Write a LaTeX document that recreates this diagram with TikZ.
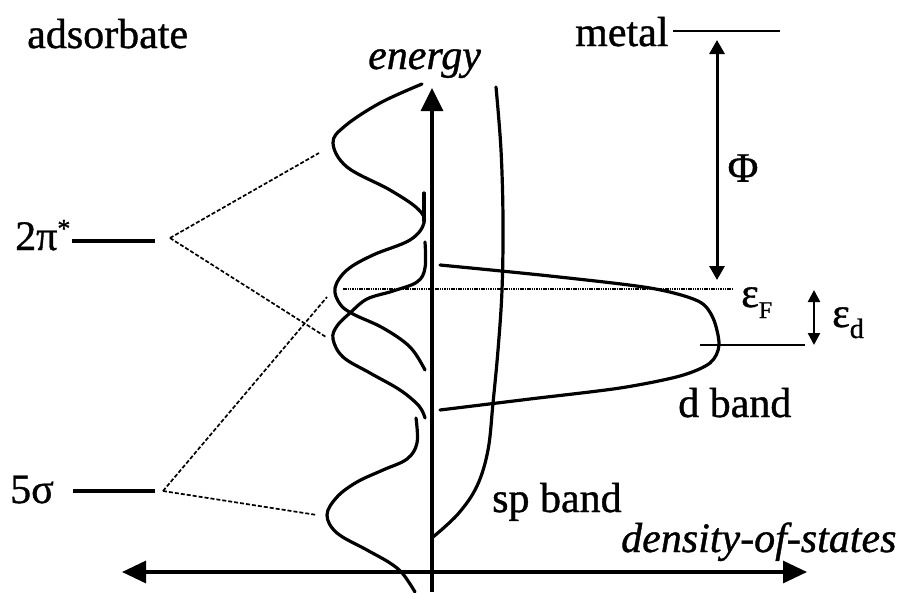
\documentclass[tikz,border=0pt]{standalone}
\usepackage{fontspec}
\setmainfont{Liberation Serif}
\usetikzlibrary{arrows.meta}
\begin{document}
\begin{tikzpicture}[x=1pt,y=-1pt,
  lbl/.style={inner sep=0pt,anchor=base west,font=\fontsize{42}{48}\selectfont\addfontfeatures{FakeBold=0.9}},
  ilbl/.style={inner sep=0pt,anchor=base west,font=\fontsize{42}{48}\selectfont\itshape\addfontfeatures{FakeBold=0.9}},
  curve/.style={line width=3.2pt,line cap=round},
  conn/.style={line width=1.7pt,dash pattern=on 4pt off 2pt},
  level/.style={line width=3.2pt},
  thin level/.style={line width=1.8pt},
]
\useasboundingbox (0,0) rectangle (918,592);

% axes
\coordinate (vbot) at (432,592);
\coordinate (vtop) at (432,88);
\coordinate (hl) at (122,572);
\coordinate (hr) at (807,572);
\draw[line width=3.2pt,-{Triangle[length=23pt,width=22pt]}] (vbot) -- (vtop);
\draw[line width=3.2pt,{Triangle[length=24pt,width=22pt]}-{Triangle[length=24pt,width=22pt]}] (hl) -- (hr);

% labels
\node[lbl] (ads) at (27,48) {adsorbate};
\node[lbl] (met) at (575,46) {metal};
\node[ilbl] (en) at (368,69) {energy};
\node[ilbl] (dos) at (621,552) {density-of-states};
\node[lbl] (sp) at (492,512) {sp band};
\node[lbl] (db) at (678,417) {d band};
\node[lbl] (pi) at (15,250) {2π\raisebox{13pt}{\fontsize{26}{28}\selectfont *}};
\node[lbl] (sg) at (10,503) {5σ};
\node[lbl,anchor=center] (phi) at (743,168) {Φ};
\node[lbl] (eF) at (741,307) {ε\raisebox{-11pt}{\fontsize{24}{28}\selectfont F}};
\node[lbl] (ed) at (832,327) {ε\raisebox{-11pt}{\fontsize{28}{30}\selectfont d}};

% adsorbate levels
\coordinate (piL) at (72,241); \coordinate (piR) at (155,241);
\coordinate (sgL) at (73,491); \coordinate (sgR) at (155,491);
\draw[level] (piL) -- (piR);
\draw[level] (sgL) -- (sgR);

% dashed connectors
\coordinate (piJ) at (170,238);
\coordinate (sgJ) at (163,491);
\coordinate (c1) at (319,153);
\coordinate (c2) at (326,337);
\coordinate (c3) at (327,297);
\coordinate (c4) at (317,515);
\draw[conn] (piJ) -- (c1);
\draw[conn] (piJ) -- (c2);
\draw[conn] (sgJ) -- (c3);
\draw[conn] (sgJ) -- (c4);

% metal levels
\coordinate (vacL) at (673,31); \coordinate (vacR) at (780,31);
\draw[thin level] (vacL) -- (vacR);
\coordinate (edL) at (700,345); \coordinate (edR) at (805,345);
\draw[thin level] (edL) -- (edR);
\coordinate (fL) at (343,289); \coordinate (fR) at (732,289);
\draw[line width=2pt,dash pattern=on 1.5pt off 0.8pt] (fL) -- (fR);

% Phi arrow and eps_d arrow
\coordinate (phT) at (717,40); \coordinate (phB) at (717,280);
\draw[line width=3pt,{Triangle[length=14pt,width=15pt]}-{Triangle[length=14pt,width=15pt]}] (phT) -- (phB);
\coordinate (edT) at (814,290); \coordinate (edB) at (814,345);
\draw[line width=2.4pt,{Triangle[length=12pt,width=12pt]}-{Triangle[length=12pt,width=12pt]}] (edT) -- (edB);

% adsorbate DOS curves
\draw[curve] plot[smooth,tension=0.6] coordinates {(422,84) (380,103) (345,126) (333,143) (347,167) (390,190) (418,209) (424,223) (410,240) (373,255) (347,270) (335,288) (340,304) (353,314) (383,328) (410,347) (425,370)};
\draw[curve] (424,193) -- (424,221);
\draw[curve] plot[smooth,tension=0.6] coordinates {(425,242) (425,268) (417,282) (393,291) (367,299) (350,313) (337,326) (333,339) (343,357) (370,373) (400,390) (419,406) (425,418)};
\draw[curve] plot[smooth,tension=0.6] coordinates {(416,418) (417,443) (407,459) (383,470) (357,482) (337,497) (327,515) (337,533) (367,550) (390,563) (403,574) (415,592)};

% sp band
\draw[curve] plot[smooth,tension=0.6] coordinates {(496,87) (501,150) (503,220) (502,290) (498,350) (493,403) (488,450) (477,486) (458,514) (433,537)};

% d band
\draw[curve] plot[smooth,tension=0.5] coordinates {(440,265) (550,276) (650,288) (698,301) (713,318) (719,345) (710,363) (680,376) (620,388) (530,399) (440,410)};
\end{tikzpicture}
\end{document}
